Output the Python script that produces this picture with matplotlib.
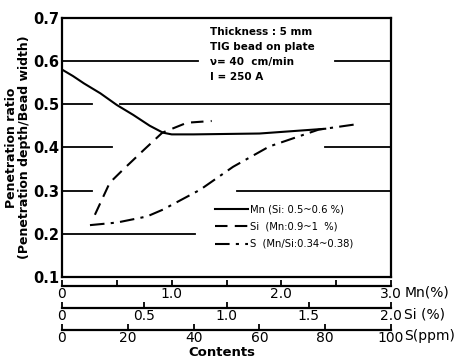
import matplotlib.pyplot as plt
from matplotlib.ticker import MultipleLocator, FixedLocator

# Data (x in each element's own unit)
mn_x = [0.0, 0.1, 0.2, 0.35, 0.5, 0.65, 0.8, 0.92, 1.0, 1.2, 1.8, 2.4]
mn_y = [0.58, 0.565, 0.548, 0.525, 0.498, 0.475, 0.450, 0.434, 0.430, 0.430, 0.432, 0.443]

si_x = [0.20, 0.29, 0.37, 0.50, 0.61, 0.76, 0.91]
si_y = [0.244, 0.318, 0.348, 0.395, 0.434, 0.457, 0.461]

s_x = [8.5, 16.7, 25.8, 30.7, 42, 52, 63, 78, 90]
s_y = [0.220, 0.226, 0.240, 0.256, 0.302, 0.355, 0.402, 0.441, 0.454]

legend_labels = ['Mn (Si: 0.5~0.6 %)', 'Si  (Mn:0.9~1  %)', 'S  (Mn/Si:0.34~0.38)']
note_lines = ['Thickness : 5 mm', 'TIG bead on plate', '\u03bd= 40  cm/min', 'I = 250 A']

# grid segments (y value, [(xmin, xmax) in axes fraction])
grid_segs = {0.6: [(0, 0.413), (0.83, 1)],
             0.5: [(0, 0.09), (0.176, 1)],
             0.4: [(0, 0.152), (0.799, 1)],
             0.3: [(0, 0.091), (0.532, 1)],
             0.2: [(0, 0.404)]}

plt.rcParams['font.family'] = 'DejaVu Sans'
fig = plt.figure(figsize=(4.66, 3.61), dpi=100)

L, W = 62/466, 329/466
ax = fig.add_axes([L, 1 - 277/361, W, 259.3/361])

for yv, segs in grid_segs.items():
    for a, b in segs:
        ax.axhline(yv, a, b, color='k', lw=1.3)

ax.plot(mn_x, mn_y, 'k-', lw=1.5, label=legend_labels[0])
# Si and S drawn on Mn axis scale (axes share the full width)
ax.plot([v * 1.5 for v in si_x], si_y, 'k', ls=(0, (6, 3.5)), lw=1.5, label=legend_labels[1])
ax.plot([v * 0.03 for v in s_x], s_y, 'k', ls=(0, (7, 3, 1.5, 3)), lw=1.5, label=legend_labels[2])

ax.set_xlim(0, 3)
ax.set_ylim(0.1, 0.7)
ax.set_xticks([])
ax.yaxis.set_major_locator(MultipleLocator(0.1))
ax.tick_params(axis='y', length=0, pad=2, labelsize=10.5)
for t in ax.get_yticklabels():
    t.set_fontweight('bold')
for s in ax.spines.values():
    s.set_linewidth(1.6)

ax.set_ylabel('Penetration ratio\n(Penetration depth/Bead width)', fontsize=9,
              fontweight='bold', labelpad=1.5, linespacing=1.05)

for i, line in enumerate(note_lines):
    ax.text(0.45, 1 - (32 + 15 * i - 17.7) / 259.3, line, transform=ax.transAxes,
            fontsize=7.5, fontweight='bold', va='center', ha='left')

ax.legend(loc='upper left', bbox_to_anchor=(0.465, 1 - (204 - 17.7) / 259.3), frameon=False,
          fontsize=7.2, handlelength=3.3, handletextpad=0.25, labelspacing=0.75,
          borderpad=0, borderaxespad=0)

# the three content scales under the plot
scales = [
    (286, 3.0, [0, 1.0, 2.0, 3.0], ['0', '1.0', '2.0', '3.0'], [0.5, 1.5, 2.5], 'Mn(%)'),
    (308, 2.0, [0, 0.5, 1.0, 1.5, 2.0], ['0', '0.5', '1.0', '1.5', '2.0'], [], 'Si (%)'),
    (330, 100, [0, 20, 40, 60, 80, 100], ['0', '20', '40', '60', '80', '100'], [], 'S(ppm)'),
]
for ypx, xmax, ticks, labels, minors, unit in scales:
    sa = fig.add_axes([L, 1 - ypx / 361, W, 0.0001])
    sa.set_xlim(0, xmax)
    sa.set_yticks([])
    for k in ['top', 'left', 'right']:
        sa.spines[k].set_visible(False)
    sa.spines['bottom'].set_linewidth(1.6)
    sa.set_xticks(ticks)
    sa.set_xticklabels(labels, fontsize=10)
    sa.xaxis.set_minor_locator(FixedLocator(minors))
    sa.tick_params(axis='x', which='both', direction='in', length=4, width=1.3, pad=0.5)
    sa.patch.set_visible(False)
    sa.annotate(unit, xy=(1.04, 0), xycoords='axes fraction', xytext=(0, 0.5),
                textcoords='offset points', fontsize=10, va='top', ha='left')

fig.text(L + W / 2 - 0.01, 1 - 352 / 361, 'Contents', fontsize=9.5, fontweight='bold',
         ha='center', va='center')

fig.savefig('out.png', dpi=100)
